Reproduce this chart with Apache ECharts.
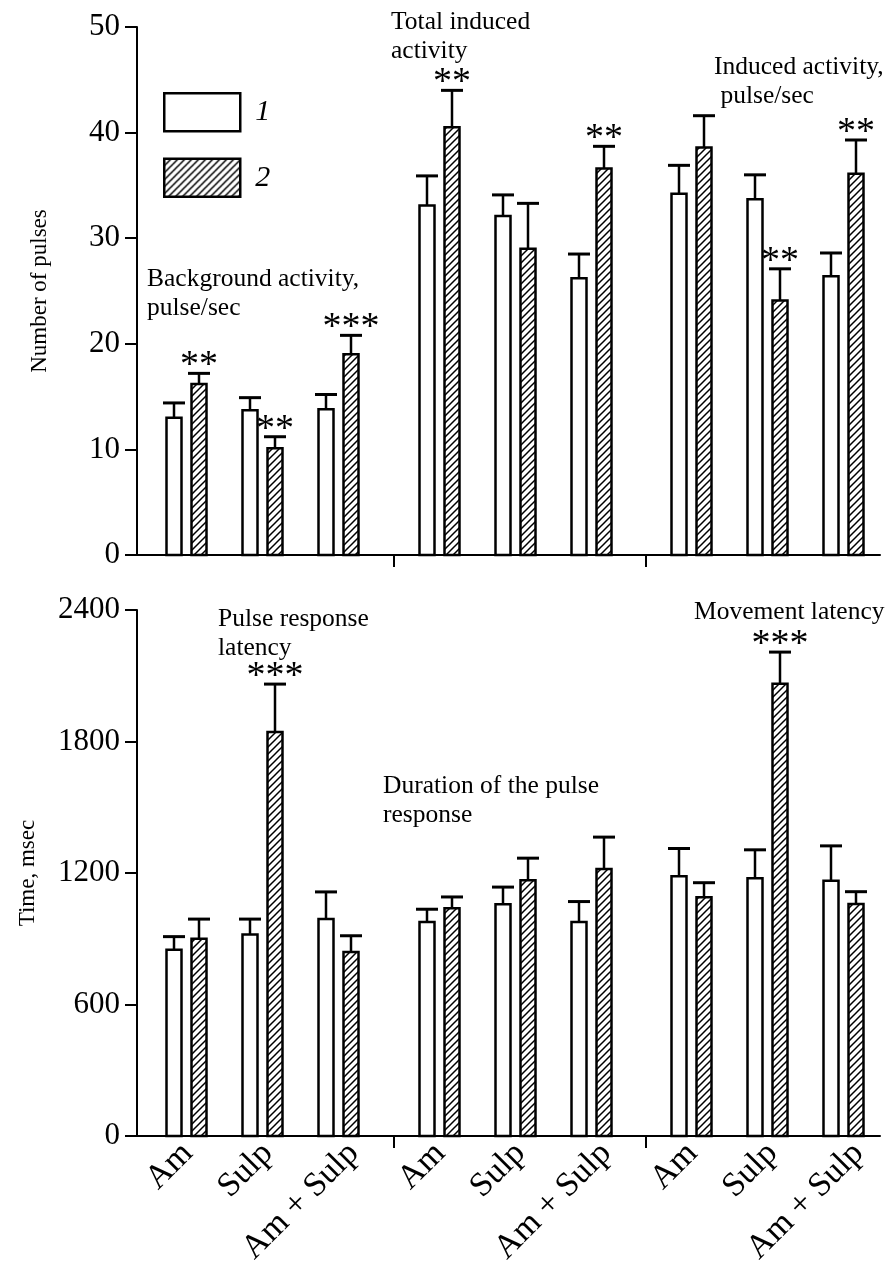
<!DOCTYPE html>
<html>
<head>
<meta charset="utf-8">
<script src="https://cdn.jsdelivr.net/npm/echarts@6/dist/echarts.min.js"></script>
<style>
  html, body { margin: 0; padding: 0; background: #fff; }
  #chart { width: 891px; height: 1268px; }
</style>
</head>
<body>
<div id="chart"></div>
<script>
// Drug groups, three per experimental section
const groups = ['Am', 'Sulp', 'Am + Sulp', 'Am', 'Sulp', 'Am + Sulp', 'Am', 'Sulp', 'Am + Sulp'];
const sectionOf = [0, 0, 0, 1, 1, 1, 2, 2, 2];

// Number of pulses: 1 = before, 2 = after
const pulses1 = [13.0, 13.7, 13.8, 33.1, 32.1, 26.2, 34.2, 33.7, 26.4];
const pulses1Err = [1.4, 1.2, 1.4, 2.8, 2.0, 2.3, 2.7, 2.3, 2.2];
const pulses2 = [16.2, 10.1, 19.0, 40.5, 29.0, 36.6, 38.6, 24.1, 36.1];
const pulses2Err = [1.0, 1.1, 1.8, 3.5, 4.3, 2.1, 3.0, 3.0, 3.2];
const pulses2Stars = ['**', '**', '***', '**', '', '**', '', '**', '**'];

// Time, msec: 1 = before, 2 = after
const time1 = [850, 920, 990, 977, 1058, 977, 1185, 1176, 1165];
const time1Err = [60, 70, 124, 58, 78, 93, 127, 130, 159];
const time2 = [900, 1844, 840, 1040, 1167, 1218, 1090, 2064, 1059];
const time2Err = [90, 218, 74, 51, 101, 146, 66, 144, 56];
const time2Stars = ['', '***', '', '', '', '', '', '***', ''];

const pulsesTicks = [0, 10, 20, 30, 40, 50];
const timeTicks = [0, 600, 1200, 1800, 2400];

// Extra spacing between sections, in category units
const sectionGap = 0.32;
const pos = groups.map((g, i) => i + sectionOf[i] * sectionGap);
const separators = [
  (pos[2] + pos[3]) / 2 + 0.06,
  (pos[5] + pos[6]) / 2 + 0.06
];
// Slanted labels pivot a little before their end, so longer names reach further right
const labelAnchor = groups.map((g, i) => pos[i] + (2 * g.length - 3) / 76);

const FONT = '"Liberation Serif", "Times New Roman", serif';

function makeHatch() {
  const s = 7;
  const c = document.createElement('canvas');
  c.width = s; c.height = s;
  const g = c.getContext('2d');
  g.fillStyle = '#fff';
  g.fillRect(0, 0, s, s);
  g.strokeStyle = '#000';
  g.lineWidth = 1.5;
  g.beginPath();
  g.moveTo(0, s); g.lineTo(s, 0);
  g.moveTo(-2, 2); g.lineTo(2, -2);
  g.moveTo(s - 2, s + 2); g.lineTo(s + 2, s - 2);
  g.stroke();
  return c;
}
const hatchFill = { image: makeHatch(), repeat: 'repeat' };

function rows(values, errs) {
  return values.map((v, i) => [pos[i], v, errs[i]]);
}

// Bar with one-sided error whisker and significance stars
function barRenderer(offset, fill, stars) {
  return function (params, api) {
    const x = api.value(0), v = api.value(1), e = api.value(2);
    const base = api.coord([x, 0]);
    const top = api.coord([x, v]);
    const cap = api.coord([x, v + e]);
    const cx = Math.round(base[0] + offset);
    const w = 15;
    const children = [
      { type: 'rect', shape: { x: cx - w / 2, y: top[1], width: w, height: base[1] - top[1] },
        style: { fill: fill, stroke: '#000', lineWidth: 2.5 } },
      { type: 'line', shape: { x1: cx, y1: top[1], x2: cx, y2: cap[1] },
        style: { stroke: '#000', lineWidth: 2.5 } },
      { type: 'line', shape: { x1: cx - 11, y1: cap[1], x2: cx + 11, y2: cap[1] },
        style: { stroke: '#000', lineWidth: 3 } }
    ];
    const s = stars && stars[params.dataIndex];
    if (s) {
      children.push({ type: 'text', style: {
        text: s, x: cx, y: cap[1] + 12, align: 'center', verticalAlign: 'bottom',
        fontSize: 38, fontFamily: FONT, fill: '#000' } });
    }
    return { type: 'group', children: children };
  };
}

const axisLineStyle = { color: '#000', width: 2 };

function xAxisFor(gridIndex, withLabels) {
  return {
    type: 'value', gridIndex: gridIndex, min: -0.654, max: 9.12,
    splitLine: { show: false },
    axisLine: { show: true, onZero: false, lineStyle: axisLineStyle },
    axisTick: { show: true, length: 12, customValues: separators, lineStyle: axisLineStyle },
    axisLabel: withLabels ? {
      show: true, customValues: labelAnchor, rotate: 45, margin: 12,
      fontSize: 34, fontFamily: FONT, color: '#000',
      formatter: function (v) {
        const i = labelAnchor.findIndex(p => Math.abs(p - v) < 1e-6);
        return i >= 0 ? groups[i] : '';
      }
    } : { show: false }
  };
}

function yAxisFor(gridIndex, ticks, name, nameGap) {
  return {
    type: 'value', gridIndex: gridIndex,
    min: ticks[0], max: ticks[ticks.length - 1], interval: ticks[1] - ticks[0],
    name: name, nameLocation: 'middle', nameGap: nameGap, nameMoveOverlap: false,
    nameTextStyle: { fontSize: 23, fontFamily: FONT, color: '#000' },
    splitLine: { show: false },
    axisLine: { show: true, onZero: false, lineStyle: axisLineStyle },
    axisTick: { show: true, length: 12, lineStyle: axisLineStyle },
    axisLabel: { fontSize: 31, fontFamily: FONT, color: '#000', margin: 17,
      formatter: function (v) { return String(v); } }
  };
}

function note(left, top, text) {
  return { type: 'text', left: left, top: top,
    style: { text: text, fontSize: 25.5, lineHeight: 29, fontFamily: FONT, fill: '#000' } };
}

const chart = echarts.init(document.getElementById('chart'), null, { renderer: 'canvas' });
chart.setOption({
  animation: false,
  backgroundColor: '#fff',
  grid: [
    { left: 137, right: 11, top: 27, height: 528 },
    { left: 137, right: 11, top: 610, height: 528 }
  ],
  xAxis: [xAxisFor(0, false), xAxisFor(1, true)],
  yAxis: [
    yAxisFor(0, pulsesTicks, 'Number of pulses', 86),
    yAxisFor(1, timeTicks, 'Time, msec', 98)
  ],
  legend: {
    orient: 'vertical', left: 163, top: 92, padding: 0,
    itemWidth: 76, itemHeight: 38, itemGap: 25, icon: 'rect',
    textStyle: { fontSize: 30, fontStyle: 'italic', fontFamily: FONT, color: '#000', padding: [0, 0, 0, 10] },
    data: [
      { name: '1', itemStyle: { color: '#fff', borderColor: '#000', borderWidth: 2.5 } },
      { name: '2', itemStyle: { color: hatchFill, borderColor: '#000', borderWidth: 2.5 } }
    ]
  },
  graphic: [
    note(147, 265, 'Background activity,\npulse/sec'),
    note(391, 8, 'Total induced\nactivity'),
    note(714, 53, 'Induced activity,\n pulse/sec'),
    note(218, 605, 'Pulse response\nlatency'),
    note(383, 772, 'Duration of the pulse\nresponse'),
    note(694, 598, 'Movement latency')
  ],
  series: [
    { name: '1', type: 'custom', xAxisIndex: 0, yAxisIndex: 0, encode: { x: 0, y: 1 },
      itemStyle: { color: '#fff', borderColor: '#000' },
      renderItem: barRenderer(-12.5, '#fff', null), data: rows(pulses1, pulses1Err) },
    { name: '2', type: 'custom', xAxisIndex: 0, yAxisIndex: 0, encode: { x: 0, y: 1 },
      itemStyle: { color: hatchFill, borderColor: '#000' },
      renderItem: barRenderer(12.5, hatchFill, pulses2Stars), data: rows(pulses2, pulses2Err) },
    { name: '1', type: 'custom', xAxisIndex: 1, yAxisIndex: 1, encode: { x: 0, y: 1 },
      itemStyle: { color: '#fff', borderColor: '#000' },
      renderItem: barRenderer(-12.5, '#fff', null), data: rows(time1, time1Err) },
    { name: '2', type: 'custom', xAxisIndex: 1, yAxisIndex: 1, encode: { x: 0, y: 1 },
      itemStyle: { color: hatchFill, borderColor: '#000' },
      renderItem: barRenderer(12.5, hatchFill, time2Stars), data: rows(time2, time2Err) }
  ]
});
</script>
</body>
</html>
